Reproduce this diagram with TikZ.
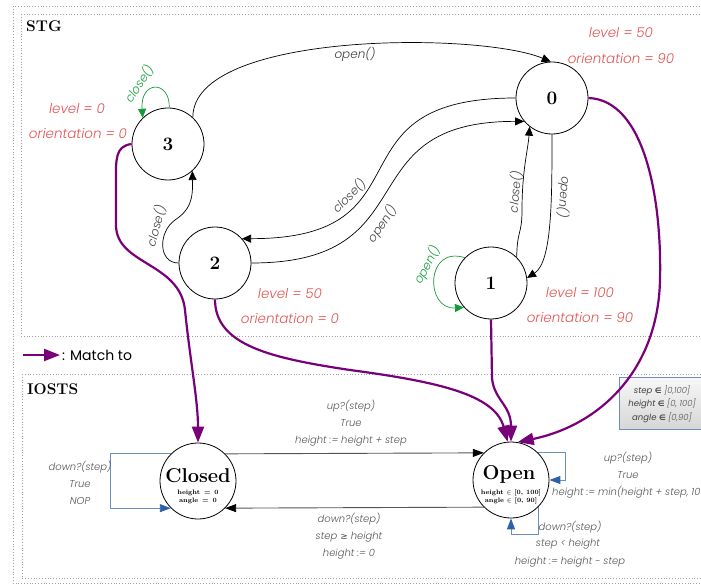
\documentclass[tikz,border=0pt]{standalone}
\usepackage{fontspec}
\usetikzlibrary{arrows.meta}
\newfontfamily\popl{Poppins}[UprightFont=* Light, ItalicFont=* Light Italic, BoldFont=*, BoldItalicFont=* Italic]
\newfontfamily\popr{Poppins}
\newfontfamily\djv{DejaVu Sans}
\definecolor{redl}{RGB}{226,85,85}
\definecolor{greenl}{RGB}{20,155,55}
\definecolor{purp}{RGB}{120,0,120}
\definecolor{bluel}{RGB}{108,142,191}
\definecolor{blued}{RGB}{46,98,168}
\definecolor{gray4}{RGB}{64,64,64}
\definecolor{gray5}{RGB}{85,85,85}
\definecolor{dotg}{RGB}{160,160,160}
\begin{document}
\begin{tikzpicture}[x=1pt,y=-1pt,
  st/.style={circle,draw,fill=white,line width=0.8pt,minimum size=72pt,inner sep=0pt,font=\fontsize{19}{19}\selectfont\bfseries},
  big/.style={circle,draw,fill=white,line width=0.8pt,minimum size=76pt,inner sep=0pt},
  tr/.style={-{Triangle[length=9pt,width=8pt]},line width=0.7pt},
  ltr/.style={draw=gray5,line width=0.9pt,-{Triangle[length=11pt,width=8pt,color=black]}},
  gtr/.style={draw=greenl,-{Triangle[length=9pt,width=8pt,color=greenl]},line width=0.7pt},
  mt/.style={draw=purp,line width=2.2pt,-{Triangle[length=16pt,width=12pt,color=purp]}},
  bt/.style={draw=bluel,line width=0.9pt,-{Triangle[length=11pt,width=8pt,color=blued]}},
  el/.style={font=\popl\itshape\fontsize{12}{12}\selectfont,text=gray4,inner sep=1pt},
  il/.style={font=\popl\itshape\fontsize{10}{10}\selectfont,text=gray5,inner sep=1pt},
  rl/.style={font=\popl\itshape\fontsize{13.5}{13.5}\selectfont,text=redl,inner sep=1pt},
  gl/.style={font=\popl\itshape\fontsize{12}{12}\selectfont,text=greenl,inner sep=1pt},
  bx/.style={font=\popl\itshape\fontsize{8.5}{8.5}\selectfont,text=gray5,inner sep=1pt},
  dotbox/.style={draw=dotg,line width=0.6pt,dash pattern=on 0.8pt off 2pt},
  ttl/.style={font=\fontsize{15.5}{15.5}\selectfont\bfseries,anchor=west,inner sep=0pt},
]
\useasboundingbox (0,0) rectangle (701,585);
\clip (0,0) rectangle (701,585);
% frames
\draw[dotbox] (13,6) rectangle (720,583);
\draw[dotbox] (21,14) rectangle (720,336);
\draw[dotbox] (22,374) rectangle (720,578);
\node[ttl] (tstg) at (26,26) {STG};
\node[ttl] (tiosts) at (27,389) {IOSTS};

% STG states
\node[st] (n3) at (168,144) {3};
\node[st] (n2) at (215,263) {2};
\node[st] (n0) at (552,98) {0};
\node[st] (n1) at (491,283) {1};

% STG transitions
\draw[tr] (n3.47) .. controls +(0,-86) and +(-72,-30) .. (n0.92);
\draw[tr] (n0.west) .. controls (323,98) and (435,239) .. (n2.42);
\draw[tr] (n2.east) .. controls (431,263) and (344,121) .. (n0.220);
\draw[tr] (n2.west) .. controls (158,263) and (158,232) .. (175,220) .. controls (190,210) and (193,200) .. (n3.-48);
\draw[tr] (n0.-90) .. controls (552,200) and (552,262) .. (n1.8);
\draw[tr] (n1.45) .. controls (517,230) and (522,235) .. (522,210) .. controls (522,170) and (528,150) .. (n0.232);
\draw[gtr] (n3.88) .. controls (170,80) and (140,80) .. (n3.134);
\draw[gtr] (n1.136) .. controls (425,245) and (425,310) .. (n1.222);

\node[el] (l30) at (355,54) {open()};
\node[el,rotate=45] (l02) at (349,196) {close()};
\node[el,rotate=55] (l20) at (382,224) {open()};
\node[el,rotate=75] (l23) at (156,226) {close()};
\node[el,rotate=-95] (l01) at (564,197) {open()};
\node[el,rotate=85] (l10) at (515,192) {close()};
\node[gl,rotate=57] (lg3) at (139,84) {close()};
\node[gl,rotate=62] (lg1) at (427,265) {open()};

% state attributes
\node[rl] (r3a) at (77,109) {level = 0};
\node[rl] (r3b) at (78,133) {orientation = 0};
\node[rl] (r0a) at (621,33) {level = 50};
\node[rl] (r0b) at (621,58) {orientation = 90};
\node[rl] (r2a) at (290,294) {level = 50};
\node[rl] (r2b) at (290,318) {orientation = 0};
\node[rl] (r1a) at (580,293) {level = 100};
\node[rl] (r1b) at (580,317) {orientation = 90};

% IOSTS
\node[big] (nC) at (198,481) {};
\node[big] (nO) at (511,480) {};
\node[font=\fontsize{20}{20}\selectfont\bfseries,inner sep=0pt] (tC) at (198,476) {Closed};
\node[font=\fontsize{6.5}{7.5}\selectfont\bfseries,align=center,inner sep=0pt] (sC) at (198,497) {height \,=\, 0\\angle \,=\, 0};
\node[font=\fontsize{20}{20}\selectfont\bfseries,inner sep=0pt] (tO) at (509,474) {Open};
\node[font=\fontsize{6.5}{7.5}\selectfont\bfseries,align=center,inner sep=0pt] (sO) at (511,497) {height $\in$ [0,\ 100]\\angle $\in$ [0,\ 90]};

\draw[ltr] (nC.45) -- (nO.135);
\draw[ltr] (nO.225) -- (nC.-45);
\draw[bt] (nC.135) -- ++(-60,0) |- (nC.225);
\draw[bt] (nO.45) -- ++(27,0) |- (nO.east);
\draw[bt] (nO.-45) -- ++(0,27) -| (nO.south);

\node[il] (u1) at (351,406) {up?(step)};
\node[il] (u2) at (351,423) {True};
\node[il] (u3) at (351,441) {height := height + step};
\node[il] (d1) at (349,519) {down?(step)};
\node[il] (d2) at (349,537) {step {\djv\fontsize{9}{9}\selectfont ≥} height};
\node[il] (d3) at (349,554) {height := 0};
\node[il] (c1) at (80,467) {down?(step)};
\node[il] (c2) at (80,484) {True};
\node[il] (c3) at (80,501) {NOP};
\node[il] (o1) at (628,458) {up?(step)};
\node[il] (o2) at (628,475) {True};
\node[il,anchor=west] (o3) at (551,492) {height := min(height + step, 100)};
\node[il] (p1) at (570,527) {down?(step)};
\node[il] (p2) at (568,544) {step < height};
\node[il] (p3) at (570,562) {height := height - step};

% variable box
\shadedraw[top color=white!97!black, bottom color=white!84!black, draw=bluel, line width=0.7pt] (619,377) rectangle (706,429);
\node[bx] (b1) at (662,391) {{\bfseries\color{gray4}step {\djv\fontsize{7.5}{7.5}\selectfont ∈}} ]0,100]};
\node[bx] (b2) at (662,404) {{\bfseries\color{gray4}height {\djv\fontsize{7.5}{7.5}\selectfont ∈}} [0, 100]};
\node[bx] (b3) at (662,418) {{\bfseries\color{gray4}angle {\djv\fontsize{7.5}{7.5}\selectfont ∈}} [0,90]};

% match relation
\draw[mt] (n3.west) .. controls (115,146) and (116,160) .. (116,180) -- (116,225) .. controls (116,265) and (180,262) .. (185,310) .. controls (190,360) and (198,400) .. (nC.north);
\draw[mt] (n2.south) .. controls (215,345) and (270,358) .. (350,370) .. controls (440,382) and (495,395) .. (nO.95);
\draw[mt] (n1.south) -- (492,378) .. controls (494,400) and (511,405) .. (nO.90);
\draw[mt] (n0.east) .. controls (645,100) and (662,200) .. (660,280) .. controls (658,370) and (600,425) .. (nO.80);

% legend
\coordinate (lg0) at (23,355);
\coordinate (lg1) at (60,355);
\draw[mt] (lg0) -- (lg1);
\node[anchor=west,font=\popr\fontsize{14}{14}\selectfont,inner sep=0pt] (lgt) at (62,355) {: Match to};
\end{tikzpicture}
\end{document}
